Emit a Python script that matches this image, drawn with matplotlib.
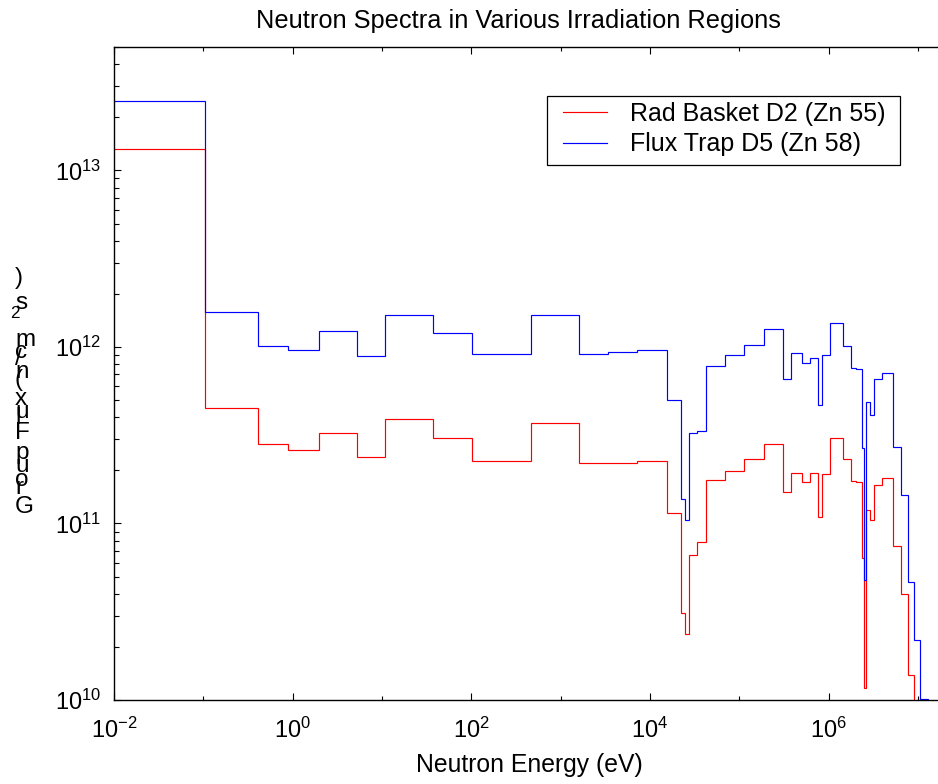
import matplotlib
matplotlib.use("Agg")
import matplotlib.pyplot as plt
from matplotlib.font_manager import FontProperties
from matplotlib.patches import Rectangle

plt.rcParams['font.family'] = ['Liberation Sans', 'DejaVu Sans']
plt.rcParams['mathtext.fontset'] = 'custom'
plt.rcParams['mathtext.rm'] = 'Liberation Sans'
plt.rcParams['mathtext.it'] = 'Liberation Sans:italic'

# group boundaries (eV)
energy_edges = [1e-2, 0.105, 0.414, 0.885, 1.95, 5.19, 10.9, 37.6, 101, 467,
                1590, 3360, 7060, 1.55e4, 2.20e4, 2.45e4, 2.70e4, 3.32e4, 4.23e4,
                6.93e4, 1.14e5, 1.87e5, 3.09e5, 3.77e5, 5.05e5, 6.18e5, 7.54e5,
                8.35e5, 1.02e6, 1.44e6, 1.76e6, 2.04e6, 2.36e6, 2.49e6, 2.61e6,
                2.90e6, 3.22e6, 3.93e6, 5.27e6, 6.43e6, 7.75e6, 9.04e6, 1.04e7,
                1.29e7, 2.0e7]

rad_basket = [1.33e13, 4.53e11, 2.82e11, 2.62e11, 3.27e11, 2.37e11, 3.91e11,
              3.04e11, 2.25e11, 3.71e11, 2.20e11, 2.20e11, 2.25e11, 1.15e11,
              3.13e10, 2.38e10, 6.62e10, 7.9e10, 1.76e11, 1.99e11, 2.31e11,
              2.82e11, 1.51e11, 1.93e11, 1.71e11, 1.93e11, 1.09e11, 1.90e11,
              3.05e11, 2.31e11, 1.75e11, 1.71e11, 6.4e10, 1.17e10, 1.19e11,
              1.04e11, 1.66e11, 1.82e11, 7.5e10, 3.96e10, 1.39e10, 5e9, 3e9, 2e9]

flux_trap = [2.47e13, 1.58e12, 1.01e12, 9.6e11, 1.23e12, 8.9e11, 1.51e12,
             1.20e12, 9.1e11, 1.51e12, 9.1e11, 9.35e11, 9.6e11, 5.03e11,
             1.37e11, 1.05e11, 3.24e11, 3.36e11, 7.83e11, 8.96e11, 1.03e12,
             1.26e12, 6.6e11, 9.2e11, 8.1e11, 8.6e11, 4.68e11, 9.0e11, 1.36e12,
             1.01e12, 7.64e11, 7.46e11, 2.67e11, 4.8e10, 4.87e11, 4.1e11,
             6.6e11, 7.1e11, 2.7e11, 1.45e11, 4.66e10, 2.2e10, 1.01e10, 5e9]

labels = ["Rad Basket D2 (Zn 55)", "Flux Trap D5 (Zn 58)"]
x_major = [1e-2, 1e0, 1e2, 1e4, 1e6]
x_major_labels = [r"$\mathregular{10^{-2}}$", r"$\mathregular{10^{0}}$",
                  r"$\mathregular{10^{2}}$", r"$\mathregular{10^{4}}$",
                  r"$\mathregular{10^{6}}$"]
x_minor = [1e-1, 1e1, 1e3, 1e5, 1e7]
y_major = [1e10, 1e11, 1e12, 1e13]
y_major_labels = [r"$\mathregular{10^{10}}$", r"$\mathregular{10^{11}}$",
                  r"$\mathregular{10^{12}}$", r"$\mathregular{10^{13}}$"]

W, H = 938, 784
fig = plt.figure(figsize=(W / 100, H / 100), dpi=100)
ax = fig.add_axes([114 / W, 84 / H, 831 / W, 653 / H])

ax.stairs(rad_basket, energy_edges, baseline=None, color="#ff0000", lw=0.85, label=labels[0])
ax.stairs(flux_trap, energy_edges, baseline=None, color="#0000ff", lw=0.85, label=labels[1])

ax.set_xscale("log")
ax.set_yscale("log")

ax.set_xticks(x_major)
ax.set_xticklabels(x_major_labels)
ax.set_xticks(x_minor, minor=True)
ax.set_xticklabels([], minor=True)
ax.set_yticks(y_major)
ax.set_yticklabels(y_major_labels)
y_minor = [m * 10.0 ** e for e in range(10, 14) for m in range(2, 10)]
ax.set_yticks(y_minor, minor=True)
ax.set_yticklabels([], minor=True)
ax.set_xlim(1e-2, 2e7)
ax.set_ylim(1e10, 5e13)

ax.tick_params(which="both", direction="in", top=True, right=True, width=0.8)
ax.tick_params(which="major", length=5.2, labelsize=17)
ax.xaxis.set_tick_params(which="major", pad=13)
ax.yaxis.set_tick_params(which="major", pad=9)
ax.xaxis.set_tick_params(which="minor", length=2.6)
ax.yaxis.set_tick_params(which="minor", length=3.3)
for s in ax.spines.values():
    s.set_linewidth(1.0)

ax.set_title("Neutron Spectra in Various Irradiation Regions", fontsize=18.3,
             pad=14, x=0.487)
ax.set_xlabel("Neutron Energy (eV)", fontsize=17.8, labelpad=7)

leg = ax.legend(loc="upper left", bbox_to_anchor=(563 / W, 1 - 102 / H),
                bbox_transform=fig.transFigure, fontsize=18, frameon=False,
                handlelength=1.76, handletextpad=0.92, borderaxespad=0,
                borderpad=0, labelspacing=0.25)
fig.patches.append(Rectangle((547 / W, 1 - 165 / H), (900 - 547) / W, (165 - 96) / H,
                             transform=fig.transFigure, fill=False,
                             edgecolor="black", linewidth=0.9))

# y label drawn the way the original renders it: upright glyphs stacked upward
fig.canvas.draw()
renderer = fig.canvas.get_renderer()
ylab_size = 17.5
fp = FontProperties(family="Liberation Sans", size=ylab_size)


def advance(ch):
    w1 = renderer.get_text_width_height_descent("x" + ch + "x", fp, ismath=False)[0]
    w0 = renderer.get_text_width_height_descent("xx", fp, ismath=False)[0]
    return w1 - w0


ylab_main = "Group Flux (n/cm"
x0, y0 = 15, H - 513
y = y0
for ch in ylab_main:
    if ch != " ":
        fig.text(x0 / W, y / H, ch, fontsize=ylab_size, ha="left", va="baseline")
    y += advance(ch)
# superscript and closing part
em = ylab_size * 100 / 72
fig.text((x0 - 5) / W, (y + 0.3 * em) / H, "2", fontsize=ylab_size * 0.7,
         ha="left", va="baseline")
fig.text(x0 / W, (y + 0.7 * em) / H, "s", fontsize=ylab_size, ha="left", va="baseline")
fig.text(x0 / W, (y + 1.7 * em) / H, ")", fontsize=ylab_size, ha="left", va="baseline")

fig.savefig("out.png", dpi=100)
